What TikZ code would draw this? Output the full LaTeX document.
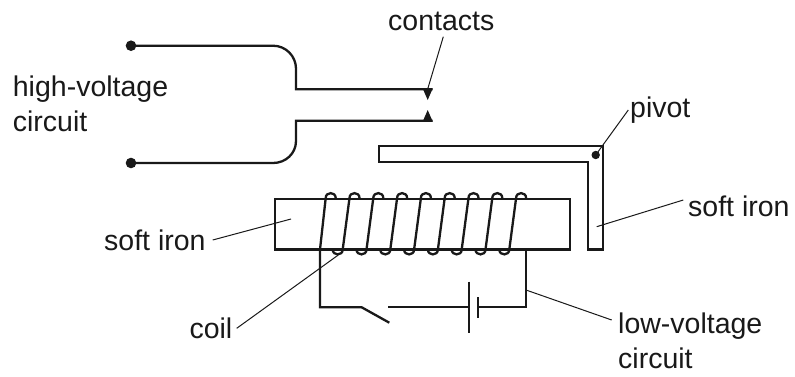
\documentclass[tikz,border=0pt]{standalone}
\usepackage{fontspec}
\setmainfont{Liberation Sans}
\begin{document}
\begin{tikzpicture}[x=1pt,y=-1pt,
  wire/.style={line width=2.3pt,line join=miter,line cap=butt,color=black!90},
  leader/.style={line width=1pt,color=black!90},
  lbl/.style={inner sep=0pt,anchor=base west,font=\fontsize{28.5}{35}\selectfont,align=left,text=black!90}]
\useasboundingbox (0,0) rectangle (795,376);
\fill[white] (0,0) rectangle (795,376);
% high-voltage circuit
\coordinate (t1) at (131,45.7);
\coordinate (t2) at (131,163);
\coordinate (ctop) at (432.7,89.3);
\coordinate (cbot) at (432.7,120.7);
\draw[wire] (t1) -- (273,45.7) .. controls (285.7,45.7) and (296,56) .. (296,68.7) -- (296,89.3) -- (ctop);
\draw[wire] (cbot) -- (296,120.7) -- (296,141) .. controls (296,153.5) and (285.7,163) .. (273,163) -- (t2);
\fill[black!90] (t1) circle[radius=5.3pt];
\fill[black!90] (t2) circle[radius=5.3pt];
\fill[black!90] (422.7,88.5) -- (432.7,88.5) -- (427.7,100) -- cycle;
\fill[black!90] (422.7,121.5) -- (432.7,121.5) -- (427.7,110) -- cycle;
% armature
\draw[wire] (379.3,146) -- (603.3,146) -- (603.3,249.5) -- (588.3,249.5) -- (588.3,161.7) -- (379.3,161.7) -- cycle;
\coordinate (pv) at (595.7,155);
\fill[black!90] (pv) circle[radius=4.2pt];
% core
\draw[wire] (275,199) rectangle (570,249.5);
% coil
\foreach \k in {0,...,8}{
  \pgfmathsetmacro{\cx}{330.7+23.8*\k}
  \pgfmathsetmacro{\cl}{\cx-5}
  \pgfmathsetmacro{\cr}{\cx+5}
  \ifnum\k=0
    \draw[wire] (320,249.5) -- (\cl,198) .. controls (\cl,191.5) and (\cr,191.5) .. (\cr,198) -- (\cr,199.5);
  \else
    \pgfmathsetmacro{\dx}{337.7+23.8*(\k-1)}
    \pgfmathsetmacro{\dl}{\dx-5}
    \pgfmathsetmacro{\dr}{\dx+5}
    \draw[wire] (\dl,249.5) .. controls (\dl,256) and (\dr,256) .. (\dr,249.5) -- (\cl,198) .. controls (\cl,191.5) and (\cr,191.5) .. (\cr,198) -- (\cr,199.5);
  \fi
}
% low-voltage circuit
\draw[wire] (320,249.5) -- (320,307.3) -- (361.7,307.3) -- (389.3,322.7);
\draw[wire] (388.3,307.3) -- (469.3,307.3);
\draw[wire] (469.3,281.7) -- (469.3,332.7);
\draw[wire] (478.3,297.3) -- (478.3,318.3);
\draw[wire] (478.3,307.3) -- (526,307.3) -- (526,249.5);
% labels
\node[lbl] (hv) at (12.7,131.7) {high-voltage\\circuit};
\node[lbl] (contacts) at (388,30) {contacts};
\node[lbl] (pivot) at (630,117) {pivot};
\node[lbl] (sir) at (688,216.7) {soft iron};
\node[lbl] (sil) at (104,250) {soft iron};
\node[lbl] (coil) at (189.3,338.3) {coil};
\node[lbl] (lv) at (618,368.3) {low-voltage\\circuit};
% leaders
\coordinate (lc1) at (443.3,36.7); \coordinate (lc2) at (427.7,89);
\coordinate (lp1) at (628.3,110);
\coordinate (lr1) at (683.3,200); \coordinate (lr2) at (596.7,226.7);
\coordinate (ll1) at (212.7,240); \coordinate (ll2) at (291,219);
\coordinate (lk1) at (236.7,328.3); \coordinate (lk2) at (338.3,255);
\coordinate (lv1) at (611.7,320); \coordinate (lv2) at (526,290);
\draw[leader] (lc1) -- (lc2);
\draw[leader] (lp1) -- (pv);
\draw[leader] (lr1) -- (lr2);
\draw[leader] (ll1) -- (ll2);
\draw[leader] (lk1) -- (lk2);
\draw[leader] (lv1) -- (lv2);
\end{tikzpicture}
\end{document}
